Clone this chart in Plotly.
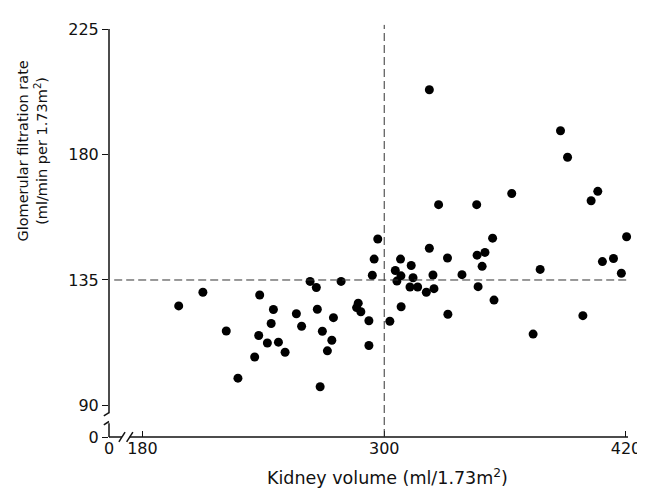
import plotly.graph_objects as go

# kidney volume (ml/1.73m2) vs glomerular filtration rate (ml/min per 1.73m2)
kidney_volume = [
    198.0, 210.0, 221.6, 227.4, 235.7, 237.7, 238.2, 242.0, 243.9, 245.0,
    247.5, 250.8, 256.4, 259.0, 263.2, 266.3, 266.8, 268.2, 269.3, 271.8,
    274.0, 274.8, 278.6, 286.3, 287.1, 288.4, 292.4, 292.4, 294.1, 295.0,
    296.8, 302.8, 305.5, 306.3, 308.1, 308.3, 308.4, 312.8, 313.4, 314.3,
    316.6, 320.9, 322.4, 322.4, 324.2, 324.7, 327.0, 331.4, 331.6, 338.6,
    345.9, 346.1, 346.6, 348.6, 350.0, 353.8, 354.5, 363.3, 373.9, 377.4,
    387.5, 391.0, 398.6, 402.7, 406.0, 408.3, 413.8, 417.7, 420.3,
]
gfr = [
    125.7, 130.6, 116.7, 99.8, 107.4, 115.1, 129.6, 112.4, 119.4, 124.4,
    112.7, 109.1, 122.9, 118.4, 134.5, 132.3, 124.5, 96.7, 116.6, 109.6,
    113.4, 121.5, 134.5, 125.1, 126.7, 123.6, 120.4, 111.5, 136.7, 142.5,
    149.7, 120.2, 138.4, 134.6, 142.5, 136.5, 125.4, 132.5, 140.2, 135.8,
    132.5, 130.6, 203.2, 146.4, 136.8, 131.9, 162.0, 142.9, 122.7, 136.9,
    162.0, 143.9, 132.6, 139.9, 144.9, 150.0, 127.8, 166.0, 115.6, 138.8,
    188.5, 179.0, 122.2, 163.4, 166.8, 141.6, 142.7, 137.4, 150.5,
]

x_ticks = [180, 300, 420]
y_ticks = [90, 135, 180, 225]
x_ref = 300   # median kidney volume
y_ref = 135   # median GFR

# both axes are broken: "0" sits at the start of each axis
x_lo, x_hi = 163.4, 421.0
y_lo, y_hi = 78.7, 225.0

font = dict(family="DejaVu Sans", size=16, color="#111")

fig = go.Figure()
fig.add_trace(go.Scatter(
    x=kidney_volume, y=gfr, mode="markers",
    marker=dict(color="black", size=9),
    cliponaxis=False, showlegend=False,
))

fig.update_xaxes(
    range=[x_lo, x_hi], showgrid=False, zeroline=False, showline=False,
    tickvals=[x_lo] + x_ticks, ticktext=["0"] + [str(v) for v in x_ticks],
    ticks="inside", ticklen=6, tickcolor="#111", tickfont=font,
)
fig.update_yaxes(
    range=[y_lo, y_hi], showgrid=False, zeroline=False, showline=False,
    tickvals=[y_lo] + y_ticks, ticktext=["0"] + [str(v) for v in y_ticks],
    ticks="outside", ticklen=6, tickcolor="#111", tickfont=font,
)

line = dict(color="#111", width=1.5)
dash = dict(color="#333", width=1, dash="8px,4px")
shapes = [
    # broken axes
    dict(type="line", xref="paper", yref="paper", x0=0, x1=0.025, y0=0, y1=0, line=line),
    dict(type="line", xref="paper", yref="paper", x0=0.040, x1=1, y0=0, y1=0, line=line),
    dict(type="line", xref="paper", yref="paper", x0=0, x1=0, y0=0, y1=0.034, line=line),
    dict(type="line", xref="paper", yref="paper", x0=0, x1=0, y0=0.058, y1=1, line=line),
    # break marks
    dict(type="line", xref="paper", yref="paper", x0=0.019, x1=0.031, y0=-0.012, y1=0.012, line=line),
    dict(type="line", xref="paper", yref="paper", x0=0.034, x1=0.046, y0=-0.012, y1=0.012, line=line),
    dict(type="line", xref="paper", yref="paper", x0=-0.010, x1=0.0, y0=0.052, y1=0.060, line=line),
    dict(type="line", xref="paper", yref="paper", x0=-0.010, x1=0.0, y0=0.030, y1=0.038, line=line),
    # median reference lines
    dict(type="line", xref="x", yref="paper", x0=x_ref, x1=x_ref, y0=0, y1=1.01, line=dash),
    dict(type="line", xref="paper", yref="y", x0=0.01, x1=1, y0=y_ref, y1=y_ref, line=dash),
]

# page body has an 8px margin, so margins are shifted to compensate
fig.update_layout(
    width=645, height=491,
    margin=dict(l=101, r=25, t=16, b=62),
    plot_bgcolor="white", paper_bgcolor="white",
    font=font, shapes=shapes,
    annotations=[
        dict(text="Kidney volume (ml/1.73m<sup>2</sup>)", xref="paper", yref="paper",
             x=0.536, y=-0.099, xanchor="center", yanchor="middle", showarrow=False,
             font=dict(family="DejaVu Sans", size=17.5, color="#111")),
        dict(text="Glomerular filtration rate<br>(ml/min per 1.73m<sup>2</sup>)",
             xref="paper", yref="paper", x=-0.148, y=0.70, textangle=-90,
             xanchor="center", yanchor="middle", showarrow=False,
             font=dict(family="DejaVu Sans", size=14.5, color="#111")),
    ],
)

fig.write_html("out.html")
